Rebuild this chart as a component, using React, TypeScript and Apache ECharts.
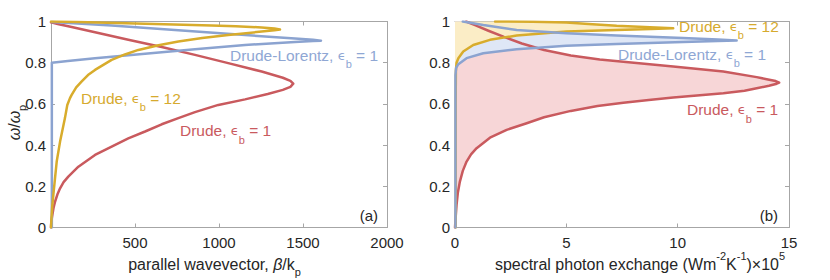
import React, { useEffect, useRef } from 'react';
import * as echarts from 'echarts';

type P = [number, number];

// Axis ticks
const betaTicks = [0, 500, 1000, 1500, 2000];
const exchangeTicks = [0, 5, 10, 15];
const omegaTicks = [0, 0.2, 0.4, 0.6, 0.8, 1];

// Panel (a): dispersion  [beta/k_p, omega/omega_p]
const dispDrude1: P[] = [
  [0, 0], [2, 0.03], [8, 0.06], [15, 0.095], [24, 0.125], [38, 0.16], [54, 0.19], [75, 0.22],
  [103, 0.247], [163, 0.295], [262, 0.352], [361, 0.393], [460, 0.433], [560, 0.466], [659, 0.501],
  [758, 0.531], [857, 0.56], [996, 0.595], [1155, 0.622], [1290, 0.648], [1380, 0.668], [1425, 0.683],
  [1442, 0.698], [1425, 0.712], [1380, 0.727], [1254, 0.757], [1055, 0.798], [857, 0.838], [659, 0.876],
  [460, 0.911], [262, 0.948], [123, 0.973], [40, 0.988], [0, 0.996],
];
const dispDrude12: P[] = [
  [0, 0], [3, 0.05], [7, 0.1], [14, 0.158], [24, 0.24], [34, 0.32], [54, 0.417], [83, 0.531],
  [97, 0.595], [113, 0.628], [123, 0.644], [150, 0.68], [183, 0.709], [220, 0.74], [262, 0.765],
  [361, 0.814], [440, 0.84], [520, 0.862], [640, 0.885], [758, 0.903], [900, 0.92], [1055, 0.935],
  [1254, 0.951], [1330, 0.957], [1363, 0.961], [1330, 0.966], [1254, 0.971], [1100, 0.977],
  [956, 0.981], [560, 0.989], [163, 0.997], [0, 1],
];
const dispDrudeLorentz: P[] = [
  [5, 0], [5, 0.8], [100, 0.808], [262, 0.822], [560, 0.843], [857, 0.865], [1155, 0.886],
  [1452, 0.901], [1560, 0.905], [1607, 0.907], [1560, 0.911], [1452, 0.918], [1155, 0.934],
  [758, 0.958], [361, 0.98], [5, 0.998],
];

// Panel (b): spectral photon exchange (x1e5)  [exchange, omega/omega_p]
const specDrude1: P[] = [
  [0, 0], [0.03, 0.05], [0.07, 0.11], [0.13, 0.17], [0.22, 0.223], [0.35, 0.275], [0.52, 0.32],
  [0.72, 0.355], [0.97, 0.385], [1.57, 0.436], [2.32, 0.474], [3.22, 0.506], [4.0, 0.535],
  [5.2, 0.566], [6.4, 0.59], [7.56, 0.606], [8.7, 0.619], [9.8, 0.631], [11.0, 0.642],
  [12.05, 0.652], [13.0, 0.664], [13.55, 0.676], [14.1, 0.688], [14.45, 0.698], [14.56, 0.703],
  [14.4, 0.711], [14.0, 0.72], [13.55, 0.73], [12.05, 0.757], [9.8, 0.781], [7.56, 0.805],
  [6.5, 0.816], [5.2, 0.835], [4.0, 0.862], [3.0, 0.893], [2.2, 0.925], [1.5, 0.955],
  [0.9, 0.982], [0.5, 1.0],
];
const specDrude12: P[] = [
  [0.03, 0], [0.03, 0.6], [0.04, 0.76], [0.07, 0.8], [0.15, 0.822], [0.37, 0.854], [0.82, 0.886],
  [1.57, 0.911], [2.77, 0.932], [5.0, 0.951], [7.26, 0.959], [8.8, 0.963], [9.8, 0.967],
  [8.76, 0.972], [7.26, 0.979], [6.0, 0.988], [5.0, 0.995], [3.5, 0.999], [1.8, 1.0],
];
const specDrudeLorentz: P[] = [
  [0.02, 0], [0.02, 0.74], [0.05, 0.775], [0.15, 0.793], [0.52, 0.822], [1.27, 0.846],
  [2.77, 0.865], [5.0, 0.882], [7.26, 0.891], [10.25, 0.9], [11.8, 0.905], [12.65, 0.908],
  [11.8, 0.913], [10.25, 0.92], [7.26, 0.932], [5.0, 0.943], [2.77, 0.959], [1.27, 0.983],
  [0.35, 1.0],
];

const FONT = '"Liberation Sans", Arial, Helvetica, sans-serif';
const AXIS = '#a6a6a6';
const TEXT = '#262626';
const RED = '#c95a5e';
const BLUE = '#8ba3d0';
const GOLD = '#d8ac2c';
const RED_FILL = '#f7d6d7';
const BLUE_FILL = '#dfe7f6';
const GOLD_FILL = '#fbedc6';
const LABEL_RED = '#c95a5e';
const LABEL_BLUE = '#8fa7d4';
const LABEL_GOLD = '#d6aa2e';
const TICK_FS = 15;

const fmt = (v: number) => String(+v.toFixed(2));

function valueAxis(extra: any) {
  return {
    type: 'value',
    axisLine: { show: true, onZero: false, lineStyle: { color: AXIS, width: 1 } },
    axisTick: { show: true, inside: true, length: 4, lineStyle: { color: AXIS, width: 1 } },
    splitLine: { show: false },
    axisLabel: { color: TEXT, fontSize: TICK_FS, fontFamily: FONT },
    ...extra,
  };
}

function lineSeries(data: P[], color: string, axisIdx: number) {
  return {
    type: 'line',
    data,
    xAxisIndex: axisIdx,
    yAxisIndex: axisIdx,
    showSymbol: false,
    symbol: 'none',
    smooth: false,
    z: 3,
    lineStyle: { color, width: 2.5, join: 'round', cap: 'round' },
    silent: true,
  };
}

function fillSeries(pts: P[], color: string, axisIdx: number) {
  const poly: P[] = [[0, pts[0][1]], ...pts, [0, pts[pts.length - 1][1]]];
  return {
    type: 'custom',
    xAxisIndex: axisIdx,
    yAxisIndex: axisIdx,
    data: [[0, 0]],
    silent: true,
    z: 1,
    renderItem: (_p: any, api: any) => ({
      type: 'polygon',
      shape: { points: poly.map((p) => api.coord(p)) },
      style: { fill: color, stroke: 'none' },
    }),
  };
}

const subStyle = { fontSize: 11, fontFamily: FONT, padding: [18, 0, 0, 0], verticalAlign: 'middle' };
const epsStyle = { fontSize: 13, fontFamily: '"DejaVu Sans", sans-serif', verticalAlign: 'middle' };

function annot(x: number, y: number, text: string, color: string) {
  return {
    type: 'text',
    x,
    y,
    silent: true,
    z: 10,
    style: {
      text,
      fill: color,
      fontSize: 15.5,
      fontFamily: FONT,
      align: 'left',
      verticalAlign: 'middle',
      rich: { e: epsStyle, s: subStyle },
    },
  };
}

export default function App() {
  const ref = useRef<HTMLDivElement>(null);
  useEffect(() => {
    if (!ref.current) return;
    document.body.style.margin = '0';
    const chart = echarts.init(ref.current, undefined, { renderer: 'svg' });
    const option: any = {
      animation: false,
      backgroundColor: '#ffffff',
      grid: [
        { left: 51, top: 21.5, width: 336, height: 206 },
        { left: 455, top: 21.5, width: 334, height: 206 },
      ],
      xAxis: [
        valueAxis({
          gridIndex: 0, min: betaTicks[0], max: betaTicks[betaTicks.length - 1], interval: 500,
          axisLabel: { color: TEXT, fontSize: TICK_FS, fontFamily: FONT, margin: 7, formatter: (v: number) => (v === 0 ? '' : fmt(v)) },
        }),
        valueAxis({
          gridIndex: 0, position: 'top', min: betaTicks[0], max: betaTicks[betaTicks.length - 1], interval: 500,
          axisLabel: { show: false },
        }),
        valueAxis({
          gridIndex: 1, min: exchangeTicks[0], max: exchangeTicks[exchangeTicks.length - 1], interval: 5,
          axisLabel: { color: TEXT, fontSize: TICK_FS, fontFamily: FONT, margin: 7, formatter: fmt },
        }),
        valueAxis({
          gridIndex: 1, position: 'top', min: exchangeTicks[0], max: exchangeTicks[exchangeTicks.length - 1], interval: 5,
          axisLabel: { show: false },
        }),
      ],
      yAxis: [
        valueAxis({
          gridIndex: 0, min: omegaTicks[0], max: omegaTicks[omegaTicks.length - 1], interval: 0.2,
          axisLabel: { color: TEXT, fontSize: TICK_FS, fontFamily: FONT, margin: 5, formatter: fmt },
        }),
        valueAxis({
          gridIndex: 0, position: 'right', min: 0, max: 1, interval: 0.2, axisLabel: { show: false },
        }),
        valueAxis({
          gridIndex: 1, min: omegaTicks[0], max: omegaTicks[omegaTicks.length - 1], interval: 0.2,
          axisLabel: { color: TEXT, fontSize: TICK_FS, fontFamily: FONT, margin: 5, formatter: fmt },
        }),
        valueAxis({
          gridIndex: 1, position: 'right', min: 0, max: 1, interval: 0.2, axisLabel: { show: false },
        }),
      ],
      series: [
        lineSeries(dispDrude1, RED, 0),
        lineSeries(dispDrudeLorentz, BLUE, 0),
        lineSeries(dispDrude12, GOLD, 0),
        fillSeries(specDrude1, RED_FILL, 2),
        fillSeries(specDrudeLorentz, BLUE_FILL, 2),
        fillSeries(specDrude12, GOLD_FILL, 2),
        lineSeries(specDrude1, RED, 2),
        lineSeries(specDrude12, GOLD, 2),
        lineSeries(specDrudeLorentz, BLUE, 2),
      ],
      graphic: [
        annot(230, 55.4, 'Drude-Lorentz, {e|ϵ}{s|b} = 1', LABEL_BLUE),
        annot(81, 98, 'Drude, {e|ϵ}{s|b} = 12', LABEL_GOLD),
        annot(180, 130.7, 'Drude, {e|ϵ}{s|b} = 1', LABEL_RED),
        annot(679, 26.4, 'Drude, {e|ϵ}{s|b} = 12', LABEL_GOLD),
        annot(618, 54, 'Drude-Lorentz, {e|ϵ}{s|b} = 1', LABEL_BLUE),
        annot(687, 109.7, 'Drude, {e|ϵ}{s|b} = 1', LABEL_RED),
        {
          type: 'text', x: 378, y: 215, silent: true,
          style: { text: '(a)', fill: TEXT, fontSize: 15, fontFamily: FONT, align: 'right', verticalAlign: 'middle' },
        },
        {
          type: 'text', x: 778, y: 215, silent: true,
          style: { text: '(b)', fill: TEXT, fontSize: 15, fontFamily: FONT, align: 'right', verticalAlign: 'middle' },
        },
        {
          type: 'text', x: 14, y: 122.5, rotation: Math.PI / 2, silent: true,
          style: {
            text: '{i|ω}/{i|ω}{s|p}', fill: TEXT, fontSize: 16, fontFamily: FONT, align: 'center', verticalAlign: 'middle',
            rich: {
              i: { fontSize: 16, fontFamily: FONT, fontStyle: 'italic', verticalAlign: 'middle' },
              s: { fontSize: 11, fontFamily: FONT, padding: [16, 0, 0, 0], verticalAlign: 'middle' },
            },
          },
        },
        {
          type: 'text', x: 214.5, y: 264.4, silent: true,
          style: {
            text: 'parallel wavevector, {i|β}/k{s|p}', fill: TEXT, fontSize: 16, fontFamily: FONT, align: 'center', verticalAlign: 'middle',
            rich: {
              i: { fontSize: 16, fontFamily: FONT, fontStyle: 'italic', verticalAlign: 'middle' },
              s: { fontSize: 11, fontFamily: FONT, padding: [16, 0, 0, 0], verticalAlign: 'middle' },
            },
          },
        },
        {
          type: 'text', x: 640, y: 264.4, silent: true,
          style: {
            text: 'spectral photon exchange (Wm{u|-2}K{u|-1})×10{u|5}', fill: TEXT, fontSize: 16, fontFamily: FONT, align: 'center', verticalAlign: 'middle',
            rich: {
              u: { fontSize: 11, fontFamily: FONT, padding: [0, 0, 16, 0], verticalAlign: 'middle' },
            },
          },
        },
      ],
    };
    chart.setOption(option);
    return () => chart.dispose();
  }, []);
  return <div ref={ref} style={{ width: 830, height: 280 }} />;
}
